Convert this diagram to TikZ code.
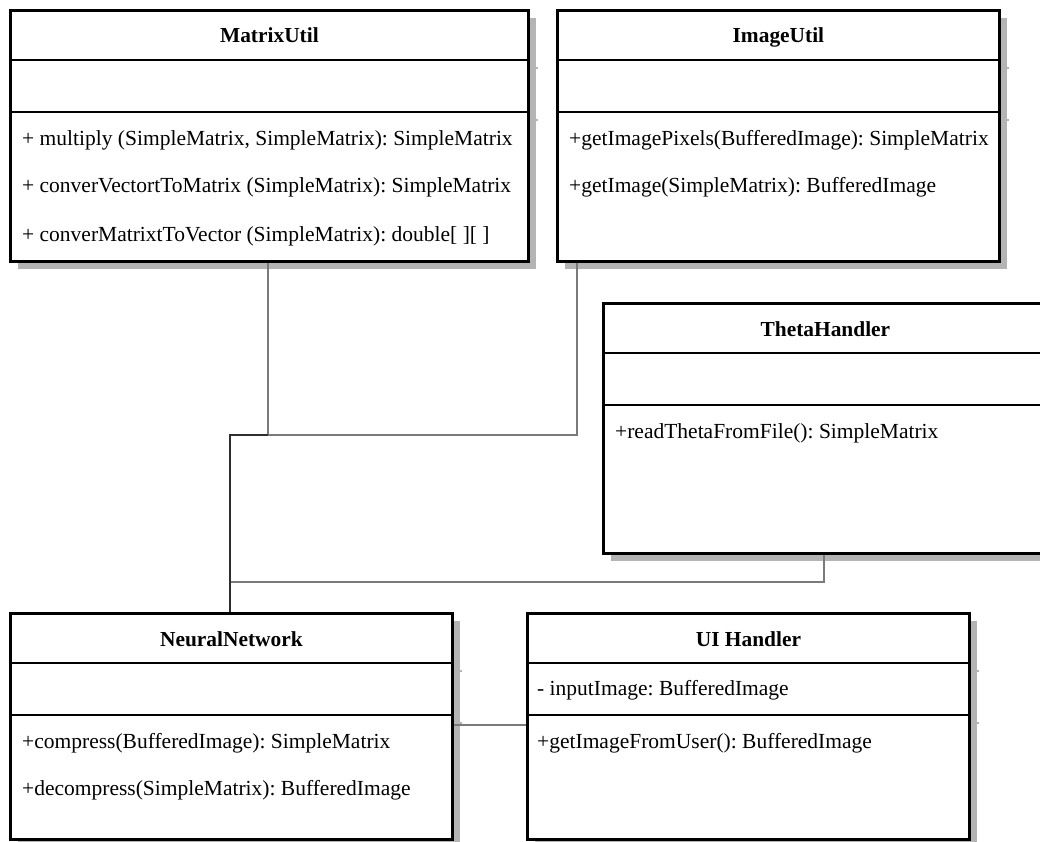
\documentclass[tikz,border=0pt]{standalone}
\usepackage{fontspec}
\setmainfont{Liberation Serif}
\frenchspacing
\usetikzlibrary{shadows}
\definecolor{shade}{HTML}{B4B4B4}
\definecolor{wire}{HTML}{7A7A7A}
\definecolor{wiredark}{HTML}{2E2E2E}
\tikzset{
  classbox/.style={draw=black, line width=2.8pt, fill=white, inner sep=0pt, anchor=north west,
    general shadow={fill=shade, shadow xshift=8pt, shadow yshift=-8pt}},
  divider/.style={draw=black, line width=2.8pt},
  shadowtick/.style={draw=shade, line width=2pt},
  classtitle/.style={font=\fontsize{21.4}{25}\selectfont\bfseries, inner sep=0pt, anchor=base},
  member/.style={font=\fontsize{21.5}{25}\selectfont, anchor=west, inner sep=0pt, text height=15pt, text depth=4pt},
  wire/.style={draw=wire, line width=2pt},
  wirestrong/.style={draw=wiredark, line width=2pt},
}
% class frame: name, x, y, width, height, title
\newcommand\classframe[6]{%
  \node[classbox, minimum width=#4pt, minimum height=#5pt] (#1) at (#2,#3) {};
  \node[classtitle] (#1-title) at ([yshift=-34pt]#1.north) {#6};
  \draw[divider] ([yshift=-51pt]#1.north west) -- ([yshift=-51pt]#1.north east);
  \draw[divider] ([yshift=-103pt]#1.north west) -- ([yshift=-103pt]#1.north east);
  \draw[shadowtick] ([yshift=-59pt]#1.north east) -- ++(8pt,0);
  \draw[shadowtick] ([yshift=-111pt]#1.north east) -- ++(8pt,0);
}
\begin{document}
\begin{tikzpicture}[x=1pt, y=-1pt]
  \fill[white] (0,0) rectangle (1040,842);
  \useasboundingbox (0,0) rectangle (1040,842);

  % junction points of the association lines
  \coordinate (jA) at (230,435);
  \coordinate (jB) at (268,435);
  \coordinate (jC) at (577,435);
  \coordinate (jD) at (230,582);
  \coordinate (jE) at (824,582);

  % classes
  \classframe{mu}{9}{9}{518}{251}{MatrixUtil}
  \node[member] (mu-m1) at (22,140) {+ multiply (SimpleMatrix, SimpleMatrix): SimpleMatrix};
  \node[member] (mu-m2) at (22,187) {+ converVectortToMatrix (SimpleMatrix): SimpleMatrix};
  \node[member] (mu-m3) at (22,236) {+ converMatrixtToVector (SimpleMatrix): double[ ][ ]};

  \classframe{iu}{556}{9}{442}{251}{ImageUtil}
  \node[member] (iu-m1) at (569,140) {+getImagePixels(BufferedImage): SimpleMatrix};
  \node[member] (iu-m2) at (569,187) {+getImage(SimpleMatrix): BufferedImage};

  \classframe{th}{602}{302}{444}{250}{ThetaHandler}
  \node[member] (th-m1) at (615,433) {+readThetaFromFile(): SimpleMatrix};

  \classframe{nn}{9}{612}{442}{226}{NeuralNetwork}
  \node[member] (nn-m1) at (22,743) {+compress(BufferedImage): SimpleMatrix};
  \node[member] (nn-m2) at (22,790) {+decompress(SimpleMatrix): BufferedImage};

  \classframe{ui}{526}{612}{442}{226}{UI Handler}
  \node[member] (ui-a1) at (537,690) {- inputImage: BufferedImage};
  \node[member] (ui-m1) at (537,743) {+getImageFromUser(): BufferedImage};

  % associations
  \draw[wire] (jB |- mu.south) -- (jB);
  \draw[wire] (jC |- iu.south) -- (jC) -- (jB);
  \draw[wire] (jE |- th.south) -- (jE) -- (jD);
  \draw[wirestrong] (jA |- nn.north) -- (jA) -- (jB);
  \draw[wire] (nn.east |- 0,725) -- (ui.west |- 0,725);
\end{tikzpicture}
\end{document}
